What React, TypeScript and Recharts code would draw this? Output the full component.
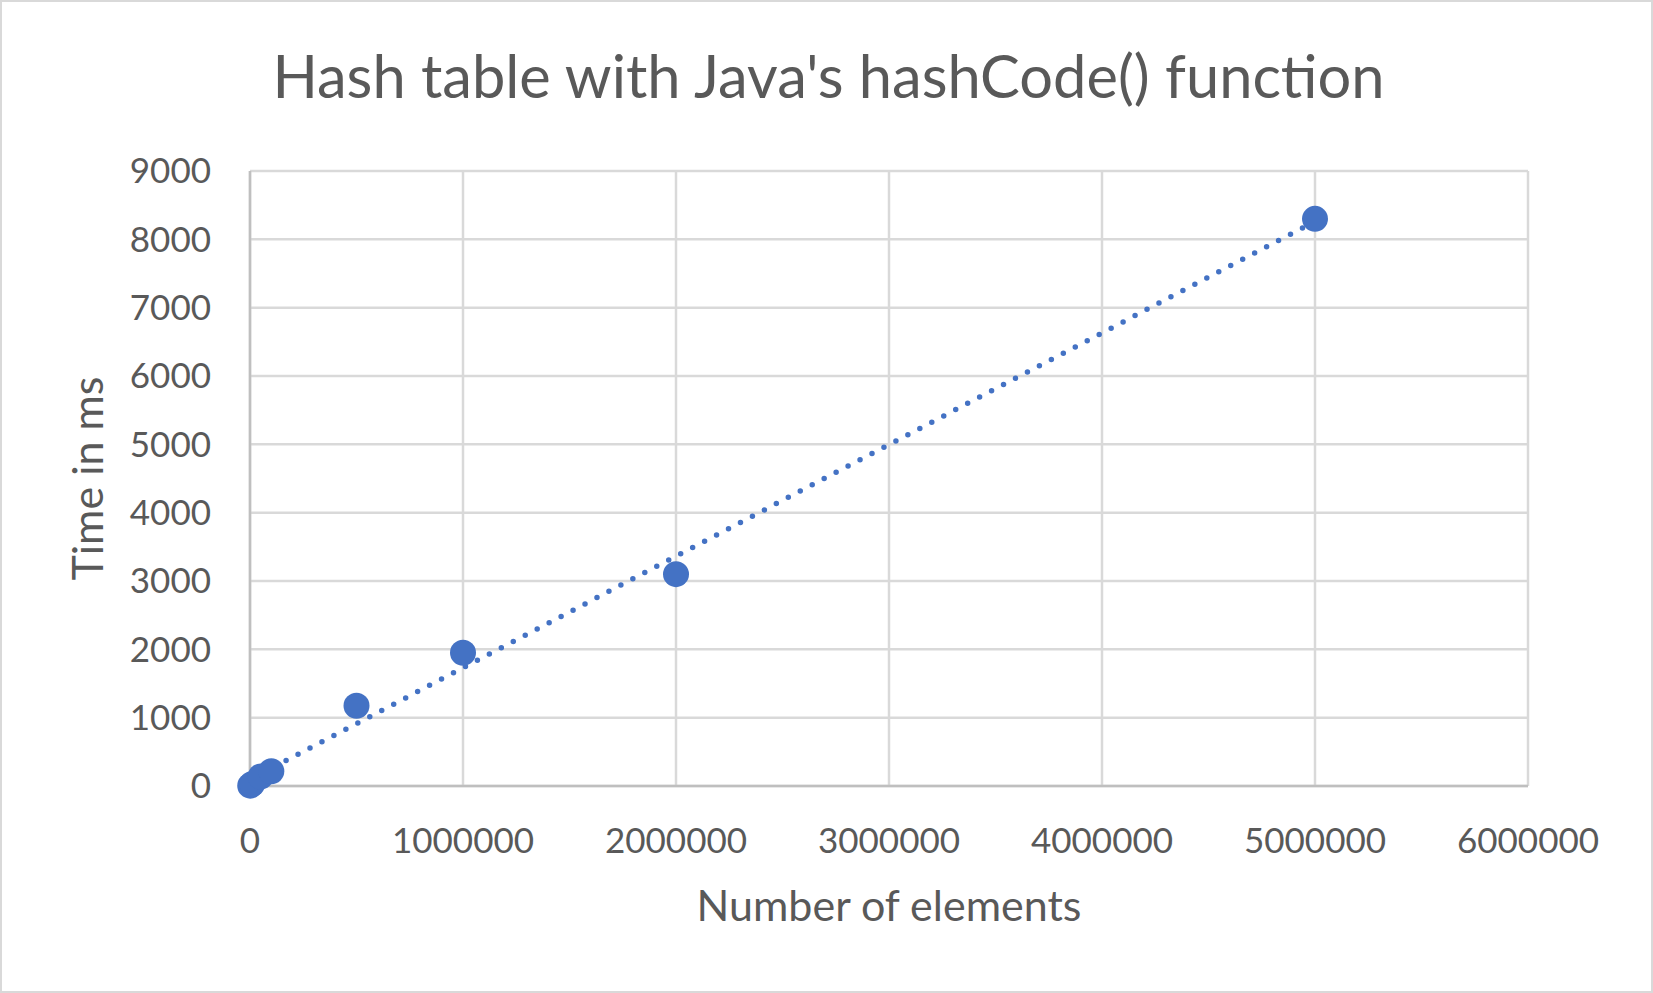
import {
  ScatterChart,
  Scatter,
  XAxis,
  YAxis,
  CartesianGrid,
  Label,
} from 'recharts'

// number of elements inserted
const elements = [1000, 10000, 50000, 100000, 500000, 1000000, 2000000, 5000000]
// measured time in ms
const timeMs = [5, 30, 140, 215, 1175, 1950, 3100, 8300]

const xTicks = [0, 1000000, 2000000, 3000000, 4000000, 5000000, 6000000]
const yTicks = [0, 1000, 2000, 3000, 4000, 5000, 6000, 7000, 8000, 9000]

const BLUE = '#4472c4'
const TEXT = '#595959'
const FONT = 'Lato, "Open Sans", sans-serif'

const points = elements.map((n, i) => ({ n, ms: timeMs[i] }))

const Dot = (props: any) => (
  <circle cx={props.cx} cy={props.cy} r={13} fill={BLUE} />
)

export default function App() {
  return (
    <div
      style={{
        position: 'absolute',
        left: 0,
        top: 0,
        width: 1653,
        height: 993,
        background: '#fff',
        border: '2px solid #d9d9d9',
        boxSizing: 'border-box',
        fontFamily: FONT,
      }}
    >
      <div
        style={{
          position: 'absolute',
          left: 0,
          top: 33,
          width: 1653,
          textAlign: 'center',
          fontSize: 59.6,
          color: TEXT,
          lineHeight: '80px',
        }}
      >
        Hash table with Java's hashCode() function
      </div>
      <div style={{ position: 'absolute', left: -2, top: -2 }}>
        <ScatterChart
          width={1653}
          height={993}
          margin={{ top: 171, right: 125, bottom: 0, left: 0 }}
        >
          <CartesianGrid stroke="#d9d9d9" strokeWidth={2.5} />
          <XAxis
            type="number"
            dataKey="n"
            domain={[0, 6000000]}
            ticks={xTicks}
            interval={0}
            height={207}
            tickLine={false}
            tickSize={0}
            tickMargin={42}
            axisLine={{ stroke: '#bfbfbf', strokeWidth: 2.5 }}
            tick={{ fill: TEXT, fontSize: 35, fontFamily: FONT }}
          >
            <Label
              value="Number of elements"
              position="insideTop"
              offset={104}
              style={{ fill: TEXT, fontSize: 43, fontFamily: FONT }}
            />
          </XAxis>
          <YAxis
            type="number"
            dataKey="ms"
            domain={[0, 9000]}
            ticks={yTicks}
            interval={0}
            width={250}
            tickLine={false}
            tickSize={0}
            tickMargin={39}
            axisLine={{ stroke: '#bfbfbf', strokeWidth: 2.5 }}
            tick={{ fill: TEXT, fontSize: 35, fontFamily: FONT }}
          >
            <Label
              value="Time in ms"
              angle={-90}
              position="insideLeft"
              offset={88}
              style={{ fill: TEXT, fontSize: 43, fontFamily: FONT, textAnchor: 'middle' }}
            />
          </YAxis>
          <Scatter
            data={points}
            isAnimationActive={false}
            shape={Dot}
            line={{
              stroke: BLUE,
              strokeWidth: 5.5,
              strokeDasharray: '0 13.5',
              strokeLinecap: 'round',
            }}
            lineType="fitting"
          />
        </ScatterChart>
      </div>
    </div>
  )
}
